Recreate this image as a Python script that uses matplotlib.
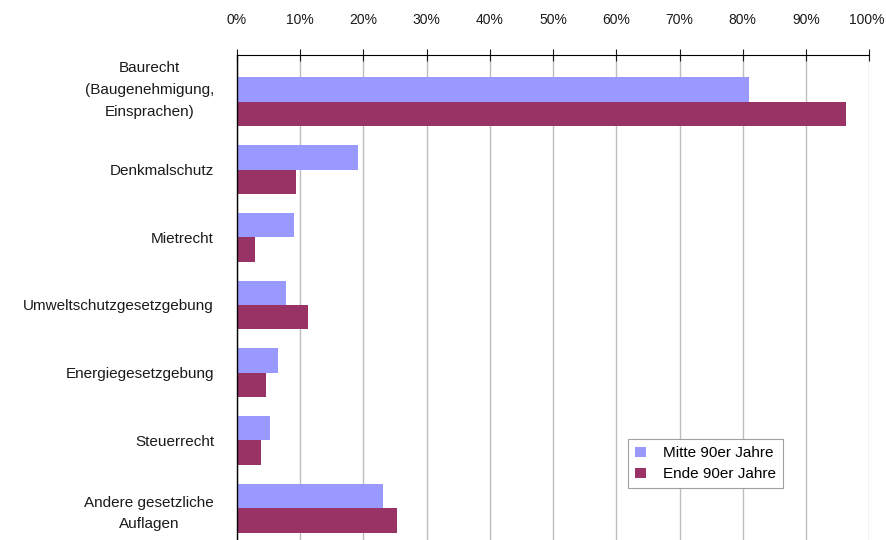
import numpy as np
import matplotlib.pyplot as plt
import matplotlib.transforms as mtransforms
from matplotlib.ticker import FuncFormatter

plt.rcParams['font.family'] = ['Liberation Sans', 'DejaVu Sans']

kategorien = ['Baurecht\n(Baugenehmigung,\nEinsprachen)', 'Denkmalschutz', 'Mietrecht',
              'Umweltschutzgesetzgebung', 'Energiegesetzgebung', 'Steuerrecht',
              'Andere gesetzliche\nAuflagen']
mitte_90er = [81.0, 19.1, 9.0, 7.7, 6.5, 5.2, 23.1]
ende_90er = [96.4, 9.4, 2.8, 11.2, 4.6, 3.8, 25.3]
x_ticks = [0, 10, 20, 30, 40, 50, 60, 70, 80, 90, 100]

fig = plt.figure(figsize=(8.86, 5.4), dpi=100)
ax = fig.add_axes([0.2675, 0.0, 0.7135, 0.898])

y = np.arange(len(kategorien))
h = 0.36
ax.barh(y - h / 2, mitte_90er, height=h, color='#9999FF', label='Mitte 90er Jahre', zorder=3)
ax.barh(y + h / 2, ende_90er, height=h, color='#993366', label='Ende 90er Jahre', zorder=3)

ax.set_xlim(0, 100)
ax.set_ylim(6.47, -0.69)
ax.set_xticks(x_ticks)
ax.xaxis.set_major_formatter(FuncFormatter(lambda v, p: f'{v:.0f}%'))
ax.xaxis.tick_top()
ax.tick_params(axis='x', direction='inout', length=8, width=0.8, pad=16,
               labelsize=10, colors='#1a1a1a')
# keep the last percentage label inside the figure
ax.get_xticklabels()[-1].set_horizontalalignment('right')
ax.get_xticklabels()[-1].set_transform(
    ax.get_xticklabels()[-1].get_transform() +
    mtransforms.ScaledTranslation(15 / 100, 0, fig.dpi_scale_trans))
ax.grid(axis='x', color='#BDBDBD', linewidth=1, zorder=0)

ax.set_yticks(y)
ax.set_yticklabels(kategorien, fontsize=11, color='#1a1a1a',
                   multialignment='center', linespacing=1.7)
ax.tick_params(axis='y', length=0, pad=16.5)
# three-line label sits a bit higher than its bars
for lbl in ax.get_yticklabels():
    if lbl.get_text().count('\n') == 2:
        lbl.set_transform(lbl.get_transform() +
                          mtransforms.ScaledTranslation(0, 17 / 100, fig.dpi_scale_trans))

for side in ['right', 'bottom']:
    ax.spines[side].set_visible(False)
ax.spines['top'].set_linewidth(0.8)
ax.spines['left'].set_linewidth(1.0)
ax.spines['left'].set_zorder(5)
ax.spines['top'].set_zorder(5)

leg = ax.legend(loc='lower left', bbox_to_anchor=(0.619, 0.107), fontsize=11,
                frameon=True, fancybox=False, edgecolor='#A0A0A0', framealpha=1,
                handlelength=0.7, handleheight=0.7, handletextpad=1.1,
                borderpad=0.45, labelspacing=0.45, borderaxespad=0)
leg.get_frame().set_linewidth(0.8)
leg.set_zorder(6)

fig.savefig('out.png', dpi=100)
